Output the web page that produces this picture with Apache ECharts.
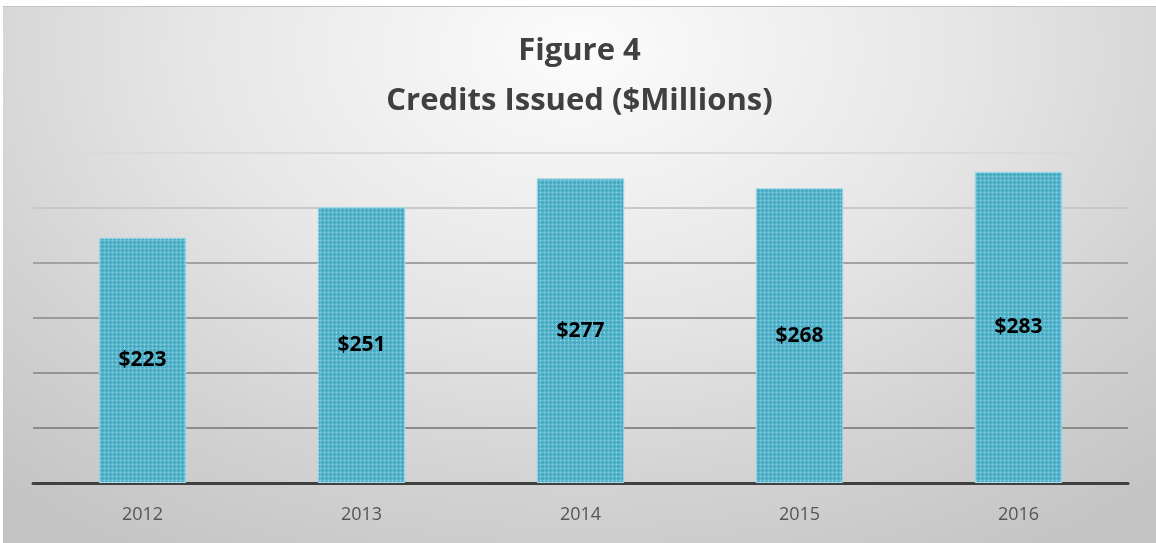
<!DOCTYPE html>
<html>
<head>
<meta charset="utf-8">
<script src="https://cdn.jsdelivr.net/npm/echarts@6/dist/echarts.min.js"></script>
<style>
  html, body { margin: 0; padding: 0; background: #fff; }
  #chart {
    position: absolute;
    left: 3px;
    top: 6px;
    width: 1153px;
    height: 537px;
    border-top: 1px solid #c4c4c4;
    background: radial-gradient(ellipse 75% 110% at 50% 8%, #fcfcfc 0%, #e6e6e6 45%, #d2d2d2 75%, #c4c4c4 100%);
  }
</style>
</head>
<body>
<div id="chart"></div>
<script>
// data
const years = ['2012', '2013', '2014', '2015', '2016']
const credits = [223, 251, 277, 268, 283]
const titleLines = ['Figure 4', 'Credits Issued ($Millions)']

// little dotted texture like the Excel fill
function makePattern() {
  const c = document.createElement('canvas')
  c.width = 4
  c.height = 4
  const ctx = c.getContext('2d')
  ctx.fillStyle = '#4aadc6'
  ctx.fillRect(0, 0, 4, 4)
  ctx.fillStyle = '#7cc6d9'
  ctx.fillRect(1, 0, 1, 1)
  ctx.fillRect(0, 1, 3, 1)
  ctx.fillRect(1, 2, 1, 1)
  return c
}

const chart = echarts.init(document.getElementById('chart'))

const option = {
  backgroundColor: 'transparent',
  animation: false,
  title: {
    text: titleLines.join('\n'),
    left: 'center',
    top: 14,
    textStyle: {
      fontFamily: 'Open Sans',
      fontWeight: 'bold',
      fontSize: 31,
      lineHeight: 50,
      color: '#404040'
    }
  },
  grid: {
    left: 30,
    right: 28,
    top: 146,
    bottom: 61
  },
  xAxis: {
    type: 'category',
    data: years,
    axisLine: { lineStyle: { color: '#404040', width: 3 } },
    axisTick: { show: false },
    axisLabel: {
      color: '#555',
      fontFamily: 'Open Sans',
      fontSize: 18,
      margin: 23
    }
  },
  yAxis: {
    type: 'value',
    min: 0,
    max: 300,
    interval: 50,
    axisLine: { show: false },
    axisTick: { show: false },
    axisLabel: { show: false },
    splitLine: {
      lineStyle: {
        width: 2,
        color: ['#8a8a8a', '#8a8a8a', '#949494', '#9a9a9a', '#a2a2a2', '#c8c8c8', '#dadada']
      }
    }
  },
  series: [{
    type: 'bar',
    data: credits,
    barWidth: '40%',
    itemStyle: {
      color: { image: makePattern(), repeat: 'repeat' },
      borderColor: '#a9dce9',
      borderWidth: 1
    },
    label: {
      show: true,
      position: 'inside',
      formatter: p => '$' + p.value,
      color: '#000',
      fontFamily: 'Open Sans',
      fontWeight: 'bold',
      fontSize: 21
    }
  }]
}

chart.setOption(option)
</script>
</body>
</html>
